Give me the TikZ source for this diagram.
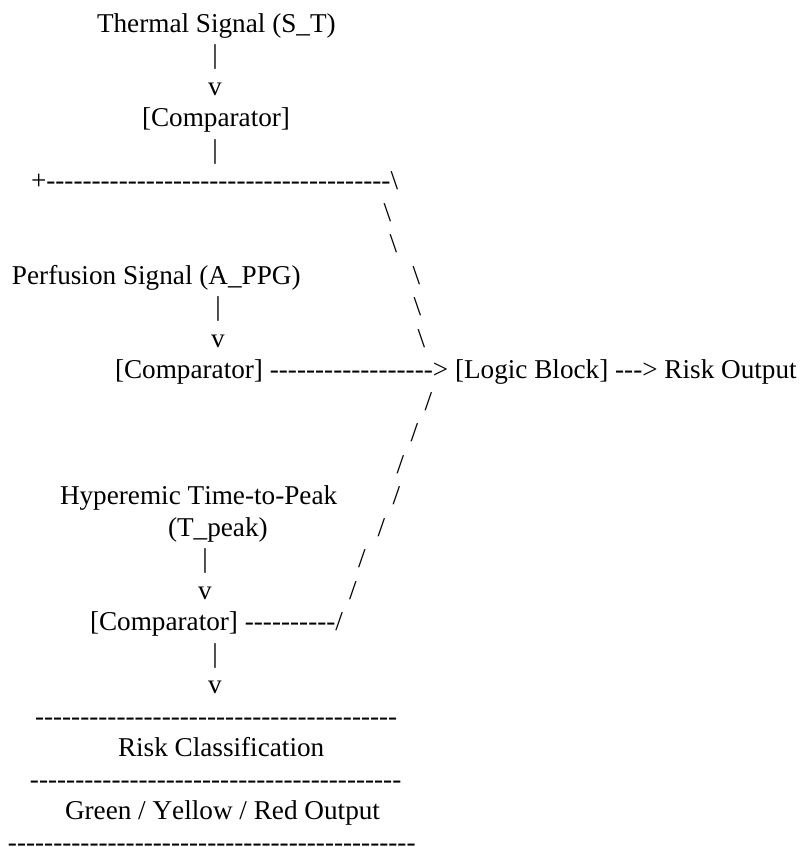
\documentclass[tikz,border=0pt]{standalone}
\usepackage{fontspec}
\setmainfont{Liberation Serif}[Ligatures=TeXOff,Kerning=Off]
\usepackage{tikz}
\tikzset{
  asciiline/.style={anchor=base west, inner sep=0pt, outer sep=0pt},
  asciichar/.style={anchor=base, inner sep=0pt, outer sep=0pt}
}

\begin{document}
\begin{tikzpicture}[x=1pt, y=-1pt, font=\fontsize{27.2}{31.5}\selectfont]
  \useasboundingbox (0,0) rectangle (803,847);
  % thermal signal
  \node[asciiline] (thermal) at (97,32) {Thermal Signal (S\_T)};
  \node[asciichar] (thermalbar) at (215,63.5) {|};
  \node[asciichar] (thermalv) at (215,95) {v};
  \node[asciiline] (thermalcomp) at (142,126.5) {[Comparator]};
  \node[asciichar] (thermalstem) at (215,158) {|};
  \node[asciiline] (thermalrail) at (31,189.5) {+--------------------------------------\textbackslash};
  \foreach \n/\x in {7/387.5, 8/393.5, 9/416.5, 10/417.5, 11/421.5}
    \node[asciichar] (back\n) at (\x,{32+(\n-1)*31.5}) {\textbackslash};
  % perfusion signal
  \node[asciiline] (perfusion) at (12,284) {Perfusion Signal (A\_PPG)};
  \node[asciichar] (perfusionbar) at (218,315.5) {|};
  \node[asciichar] (perfusionv) at (218,347) {v};
  \node[asciiline] (perfusioncomp) at (115,378.5) {[Comparator] ------------------> [Logic Block] ---> Risk Output};
  \foreach \n/\x in {13/428.5, 14/414.5, 15/400.5, 16/396.5, 17/381.5, 18/362, 19/353}
    \node[asciichar] (slash\n) at (\x,{32+(\n-1)*31.5}) {/};
  % time-to-peak
  \node[asciiline] (hyperemic) at (60,504.5) {Hyperemic Time-to-Peak};
  \node[asciiline] (tpeak) at (168,536) {(T\_peak)};
  \node[asciichar] (tpeakbar) at (205,567.5) {|};
  \node[asciichar] (tpeakv) at (205,599) {v};
  \node[asciiline] (tpeakcomp) at (90,630.5) {[Comparator] ----------/};
  \node[asciichar] (tpeakstem) at (215,662) {|};
  \node[asciichar] (tpeakdown) at (215,693.5) {v};
  % risk classification
  \node[asciiline] (rulea) at (35,725) {----------------------------------------};
  \node[asciiline] (riskclass) at (118,756.5) {Risk Classification};
  \node[asciiline] (ruleb) at (30,788) {-----------------------------------------};
  \node[asciiline] (riskout) at (65,819.5) {Green / Yellow / Red Output};
  \node[asciiline] (rulec) at (8,851) {---------------------------------------------};
\end{tikzpicture}
\end{document}
